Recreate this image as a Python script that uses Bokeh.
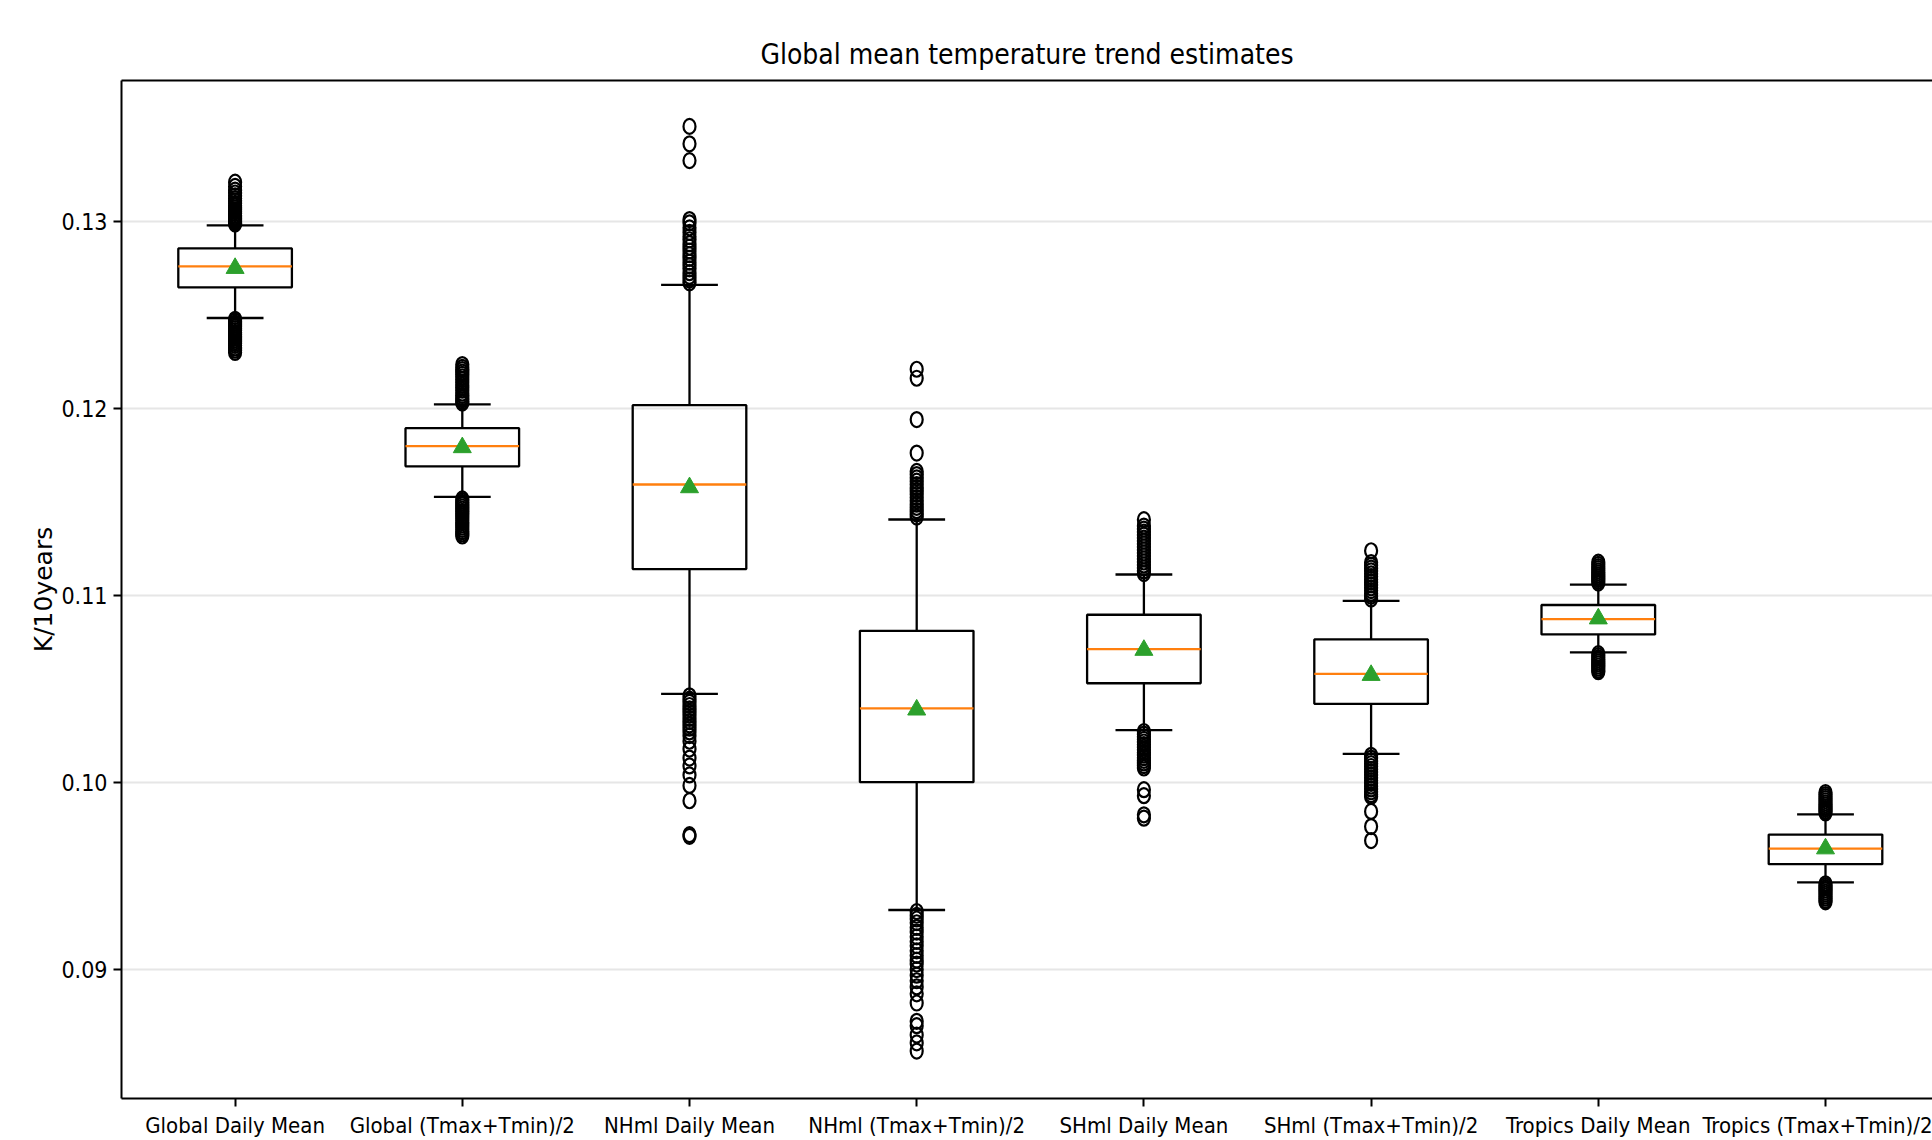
from bokeh.plotting import figure
from bokeh.models import Range1d, FixedTicker, PrintfTickFormatter, ColumnDataSource, LinearAxis
from bokeh.embed import file_html
from bokeh.resources import INLINE

# ---------------- data ----------------
categories = ["Global Daily Mean", "Global (Tmax+Tmin)/2", "NHml Daily Mean", "NHml (Tmax+Tmin)/2",
              "SHml Daily Mean", "SHml (Tmax+Tmin)/2", "Tropics Daily Mean", "Tropics (Tmax+Tmin)/2"]

whisker_low  = [0.12482, 0.11526, 0.10473, 0.09318, 0.10279, 0.10152, 0.10695, 0.09466]
q1           = [0.12646, 0.11689, 0.11140, 0.10001, 0.10530, 0.10420, 0.10791, 0.09563]
median       = [0.12758, 0.11797, 0.11592, 0.10396, 0.10712, 0.10580, 0.10873, 0.09646]
q3           = [0.12854, 0.11893, 0.12016, 0.10810, 0.10896, 0.10764, 0.10948, 0.09721]
whisker_high = [0.12977, 0.12020, 0.12659, 0.11405, 0.11111, 0.10970, 0.11057, 0.09829]
mean         = [0.12748, 0.11790, 0.11576, 0.10388, 0.10707, 0.10573, 0.10875, 0.09646]

outliers_global_daily = [0.13208, 0.13185, 0.13165, 0.13150, 0.13135, 0.13120, 0.13108, 0.13095, 0.13082,
                         0.13070, 0.13060, 0.13050, 0.13040, 0.13030, 0.13022, 0.13014, 0.13006, 0.12998,
                         0.12990, 0.12984,
                         0.12475, 0.12465, 0.12455, 0.12445, 0.12435, 0.12425, 0.12415, 0.12405, 0.12395,
                         0.12385, 0.12375, 0.12365, 0.12355, 0.12345, 0.12335, 0.12322, 0.12310, 0.12298]
outliers_global_tmm = [0.12233, 0.12218, 0.12206, 0.12193, 0.12181, 0.12167, 0.12153, 0.12138, 0.12123,
                       0.12110, 0.12096, 0.12080, 0.12068, 0.12055, 0.12045, 0.12035, 0.12027,
                       0.11515, 0.11505, 0.11494, 0.11483, 0.11472, 0.11460, 0.11448, 0.11436, 0.11424,
                       0.11412, 0.11400, 0.11388, 0.11376, 0.11364, 0.11352, 0.11340, 0.11328, 0.11317]
outliers_nhml_daily = [0.13506, 0.13413, 0.13323,
                       0.13008, 0.12990, 0.12964, 0.12940, 0.12917, 0.12900, 0.12879, 0.12860, 0.12840,
                       0.12820, 0.12801, 0.12780, 0.12762, 0.12745, 0.12724, 0.12705, 0.12685, 0.12670,
                       0.10463, 0.10445, 0.10428, 0.10411, 0.10393, 0.10376, 0.10359, 0.10342, 0.10325,
                       0.10307, 0.10290, 0.10270, 0.10250, 0.10220, 0.10178, 0.10130, 0.10088, 0.10040,
                       0.09984, 0.09902, 0.09721, 0.09712]
outliers_nhml_tmm = [0.12208, 0.12160, 0.11939, 0.11760,
                     0.11662, 0.11645, 0.11628, 0.11610, 0.11592, 0.11575, 0.11558, 0.11540, 0.11522,
                     0.11505, 0.11487, 0.11470, 0.11452, 0.11435, 0.11418,
                     0.09310, 0.09290, 0.09270, 0.09250, 0.09225, 0.09200, 0.09175, 0.09150, 0.09127,
                     0.09100, 0.09075, 0.09050, 0.09029, 0.09000, 0.08970, 0.08940, 0.08907, 0.08870,
                     0.08821, 0.08723, 0.08700, 0.08650, 0.08608, 0.08564]
outliers_shml_daily = [0.11404, 0.11370, 0.11354, 0.11338, 0.11322, 0.11306, 0.11290, 0.11274, 0.11258,
                       0.11242, 0.11226, 0.11210, 0.11194, 0.11178, 0.11162, 0.11146, 0.11130, 0.11116,
                       0.10272, 0.10258, 0.10244, 0.10230, 0.10216, 0.10202, 0.10188, 0.10174, 0.10160,
                       0.10146, 0.10132, 0.10118, 0.10104, 0.10090, 0.10077, 0.09961, 0.09929, 0.09827,
                       0.09809]
outliers_shml_tmm = [0.11238, 0.11175, 0.11160, 0.11145, 0.11130, 0.11115, 0.11100, 0.11085, 0.11070,
                     0.11055, 0.11040, 0.11025, 0.11010, 0.10995, 0.10980,
                     0.10145, 0.10130, 0.10115, 0.10100, 0.10085, 0.10070, 0.10055, 0.10040, 0.10025,
                     0.10010, 0.09995, 0.09980, 0.09965, 0.09950, 0.09935, 0.09925, 0.09845, 0.09764,
                     0.09689]
outliers_tropics_daily = [0.11177, 0.11165, 0.11153, 0.11142, 0.11131, 0.11120, 0.11109, 0.11098, 0.11087,
                          0.11076, 0.11065,
                          0.10688, 0.10677, 0.10666, 0.10655, 0.10644, 0.10633, 0.10622, 0.10611, 0.10600,
                          0.10592]
outliers_tropics_tmm = [0.09946, 0.09935, 0.09924, 0.09913, 0.09902, 0.09891, 0.09880, 0.09869, 0.09858,
                        0.09847, 0.09837,
                        0.09458, 0.09447, 0.09436, 0.09425, 0.09414, 0.09403, 0.09392, 0.09381, 0.09370,
                        0.09362]

outliers = [outliers_global_daily, outliers_global_tmm, outliers_nhml_daily, outliers_nhml_tmm,
            outliers_shml_daily, outliers_shml_tmm, outliers_tropics_daily, outliers_tropics_tmm]

y_ticks = [0.09, 0.10, 0.11, 0.12, 0.13]

# ---------------- sources ----------------
pos = [i + 1 for i in range(len(categories))]
box_src = ColumnDataSource(dict(
    x=pos, q1=q1, q3=q3, med=median, mean=mean, wlo=whisker_low, whi=whisker_high,
    left=[x - 0.25 for x in pos], right=[x + 0.25 for x in pos],
    cl=[x - 0.125 for x in pos], cr=[x + 0.125 for x in pos],
))
ox, oy = [], []
for x, vals in zip(pos, outliers):
    ox.extend([x] * len(vals))
    oy.extend(vals)
out_src = ColumnDataSource(dict(x=ox, y=oy))

# ---------------- figure ----------------
W, H = 1932, 1140
LEFT, TOP, BOTTOM = 121, 80, 41
px_per_unit_y = 18730.0
y_end = 0.13 + (220.7 - TOP) / px_per_unit_y
frame_h = H - TOP - BOTTOM
y_start = y_end - frame_h / px_per_unit_y
frame_w = W - LEFT
x_end = 0.5 + frame_w / 227.2

FONT = "DejaVu Sans Condensed"
LW = 2.3

p = figure(width=W, height=H, output_backend="svg", toolbar_location=None,
           x_range=Range1d(0.5, x_end), y_range=Range1d(y_start, y_end),
           title="Global mean temperature trend estimates",
           min_border_left=LEFT, min_border_right=0, min_border_top=TOP, min_border_bottom=BOTTOM,
           background_fill_color="white", border_fill_color="white")
p.outline_line_color = None

p.title.align = "center"
p.title.text_font = FONT
p.title.text_font_size = "28px"
p.title.text_font_style = "normal"
p.title.text_color = "black"
p.title.standoff = 20

# axes
p.xaxis.ticker = FixedTicker(ticks=pos)
p.xaxis.major_label_overrides = {x: c for x, c in zip(pos, categories)}
p.yaxis.ticker = FixedTicker(ticks=y_ticks)
p.yaxis.formatter = PrintfTickFormatter(format="%.2f")
p.yaxis.axis_label = "K/10years"
p.yaxis.axis_label_text_font = "DejaVu Sans"
p.yaxis.axis_label_text_font_size = "25px"
p.yaxis.axis_label_text_font_style = "normal"
p.yaxis.axis_label_text_color = "black"
p.yaxis.axis_label_standoff = 0

for ax in (p.xaxis, p.yaxis):
    ax.axis_line_width = 2
    ax.axis_line_color = "black"
    ax.major_tick_line_width = 2
    ax.major_tick_line_color = "black"
    ax.major_tick_out = 8
    ax.major_tick_in = 0
    ax.minor_tick_line_color = None
    ax.major_label_text_font = FONT
    ax.major_label_text_color = "black"
p.yaxis.major_label_text_font_size = "23px"
p.xaxis.major_label_text_font_size = "22px"
p.xaxis.major_label_standoff = 6
p.yaxis.major_label_standoff = 6

top_axis = LinearAxis(ticker=FixedTicker(ticks=[]), major_tick_out=0, major_tick_in=0,
                      minor_tick_line_color=None, major_label_text_font_size="0px",
                      axis_line_width=2, axis_line_color="black", major_label_standoff=0)
p.add_layout(top_axis, "above")

p.xgrid.visible = False
p.ygrid.grid_line_color = "#e6e6e6"
p.ygrid.grid_line_width = 2

# ---------------- glyphs ----------------
p.segment(x0="x", y0="q3", x1="x", y1="whi", source=box_src, line_color="black", line_width=LW)
p.segment(x0="x", y0="q1", x1="x", y1="wlo", source=box_src, line_color="black", line_width=LW)
p.segment(x0="cl", y0="whi", x1="cr", y1="whi", source=box_src, line_color="black", line_width=LW)
p.segment(x0="cl", y0="wlo", x1="cr", y1="wlo", source=box_src, line_color="black", line_width=LW)
p.quad(left="left", right="right", bottom="q1", top="q3", source=box_src,
       fill_color=None, line_color="black", line_width=LW)
p.segment(x0="left", y0="med", x1="right", y1="med", source=box_src, line_color="#ff7f0e", line_width=LW)
p.ellipse(x="x", y="y", width=12, height=15, width_units="screen", height_units="screen",
          source=out_src, fill_color=None, line_color="black", line_width=2.2)
p.scatter(x="x", y="mean", source=box_src, marker="triangle", size=18,
          fill_color="#2ca02c", line_color="#2ca02c")

open("out.html", "w").write(file_html(p, INLINE))
